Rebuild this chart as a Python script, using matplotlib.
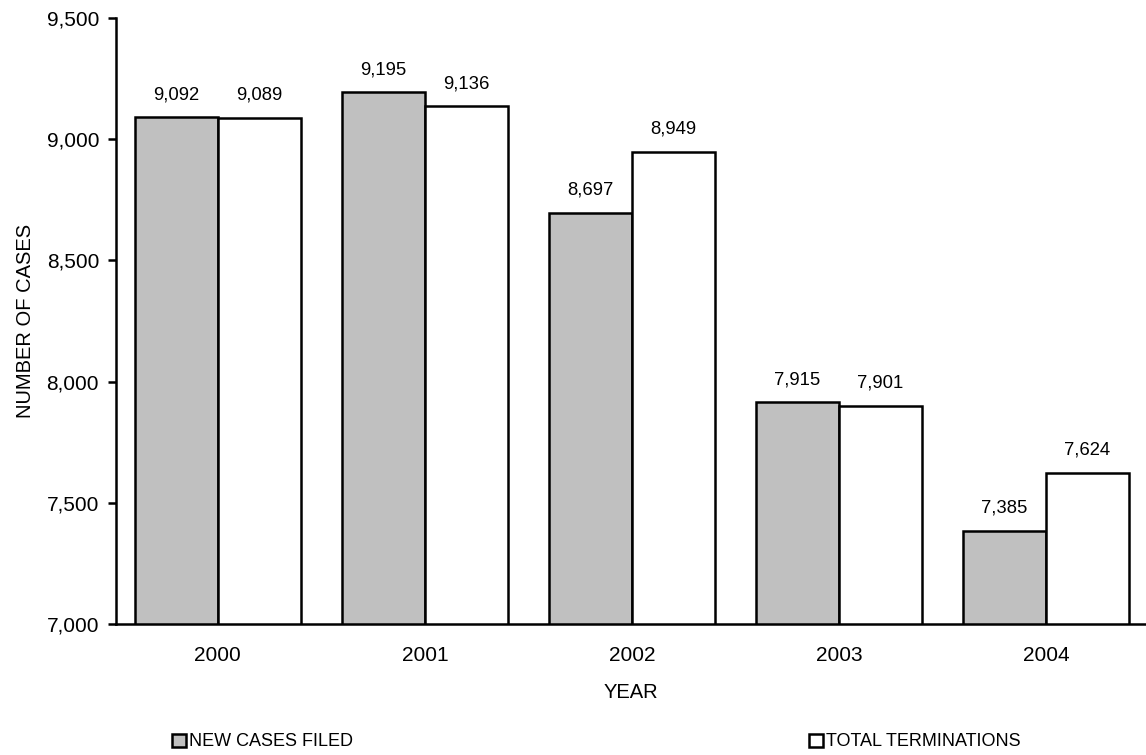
import numpy as np
import matplotlib.pyplot as plt
from matplotlib.patches import Patch

plt.rcParams['font.family'] = ['Liberation Sans', 'DejaVu Sans']

years = ["2000", "2001", "2002", "2003", "2004"]
new_cases = [9092, 9195, 8697, 7915, 7385]
terminations = [9089, 9136, 8949, 7901, 7624]
yticks = [7000, 7500, 8000, 8500, 9000, 9500]

gray = '#c0c0c0'

fig = plt.figure(figsize=(11.46, 7.55), dpi=100)
ax = fig.add_axes([0.101, 0.1735, 0.899, 0.8025])

x = np.arange(len(years))
w = 0.4
b1 = ax.bar(x - w/2, new_cases, w, color=gray, edgecolor='black', linewidth=1.8, zorder=2)
b2 = ax.bar(x + w/2, terminations, w, color='white', edgecolor='black', linewidth=1.8, zorder=2)

for bars, vals in [(b1, new_cases), (b2, terminations)]:
    for r, v in zip(bars, vals):
        ax.annotate("{:,}".format(v), (r.get_x() + r.get_width()/2, v),
                    xytext=(0, 10), textcoords='offset points',
                    ha='center', va='bottom', fontsize=13.3)

ax.set_ylim(7000, 9500)
ax.set_xlim(-0.493, 4.483)
ax.set_yticks(yticks)
ax.set_yticklabels(["{:,}".format(t) for t in yticks], fontsize=15)
ax.set_xticks(x)
ax.set_xticklabels(years, fontsize=15)
ax.tick_params(axis='x', length=0, pad=16)
ax.tick_params(axis='y', length=6, width=1.8, pad=6)

ax.spines['top'].set_visible(False)
ax.spines['right'].set_visible(False)
ax.spines['left'].set_linewidth(1.8)
ax.spines['bottom'].set_linewidth(1.8)

ax.set_xlabel("YEAR", fontsize=14.5, labelpad=13)
ax.set_ylabel("NUMBER OF CASES", fontsize=14.5, labelpad=8)

h1 = Patch(facecolor=gray, edgecolor='black', linewidth=1.8)
h2 = Patch(facecolor='white', edgecolor='black', linewidth=1.8)
kw = dict(frameon=False, fontsize=13, handlelength=0.75, handleheight=0.75,
          handletextpad=0.2, borderpad=0, borderaxespad=0)
fig.legend([h1], ["NEW CASES FILED"], loc='center left',
           bbox_to_anchor=(172/1146, 1 - 742/755), **kw)
fig.legend([h2], ["TOTAL TERMINATIONS"], loc='center left',
           bbox_to_anchor=(809/1146, 1 - 742/755), **kw)

fig.savefig("out.png", dpi=100)
